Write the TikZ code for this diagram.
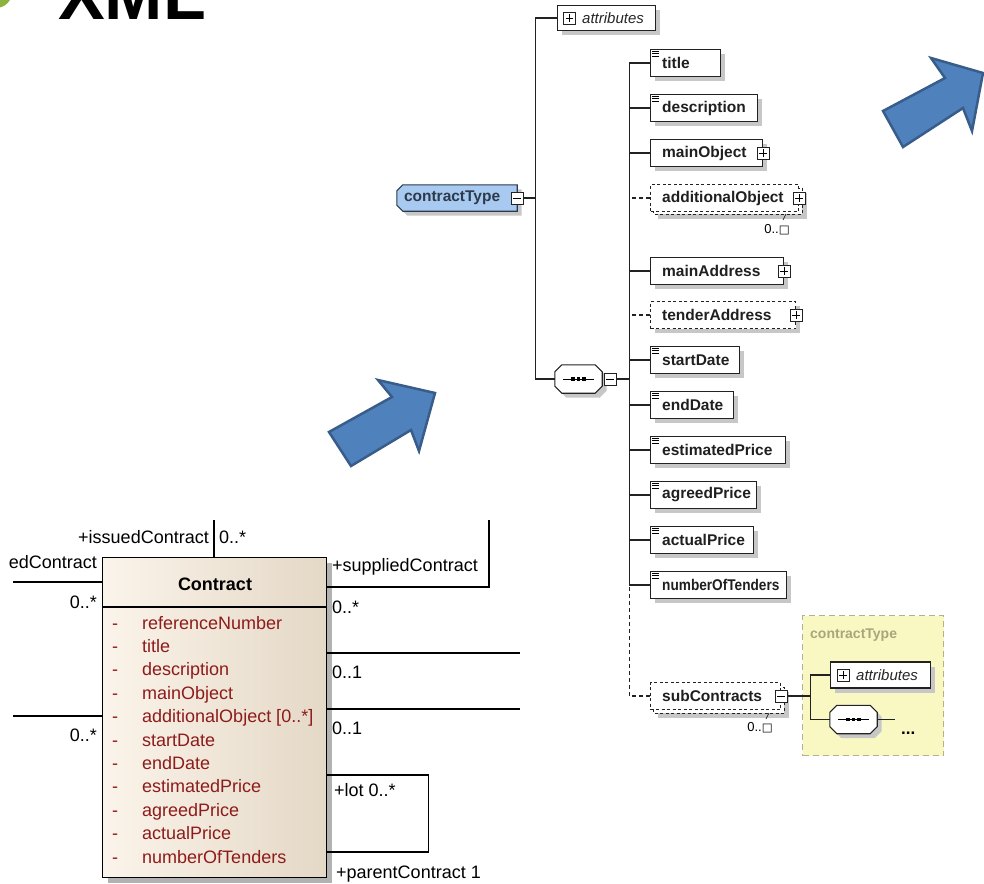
\documentclass[tikz,border=0pt]{standalone}
\usepackage{fontspec}
\setmainfont{Liberation Sans}
\newfontfamily\dvfont{DejaVu Sans}
\newfontfamily\narrowfont[FakeStretch=0.88]{Liberation Sans}
\usetikzlibrary{shadows,calc}
\definecolor{ctblue}{HTML}{A9CAF0}
\definecolor{ctline}{HTML}{2C3A4C}
\definecolor{arrowfill}{HTML}{4F81BD}
\definecolor{arrowline}{HTML}{385D8A}
\definecolor{umlred}{HTML}{8E1B1B}
\definecolor{ylw}{HTML}{FAF8C2}
\definecolor{ylwline}{HTML}{B4B28A}
\definecolor{ylwtext}{HTML}{A8A67C}
\definecolor{clsL}{HTML}{FBF4EA}
\definecolor{clsR}{HTML}{E4D8C6}
\definecolor{xmlgreen}{HTML}{8CB33E}
\definecolor{boxline}{HTML}{222222}
\tikzset{
 shd/.style={drop shadow={shadow xshift=4.5pt,shadow yshift=-4.5pt,fill=black!22,opacity=1}},
 elbox/.style={draw=boxline, line width=1.1pt, fill=white, minimum height=27pt, inner sep=0pt},
 dbox/.style={dash pattern=on 3pt off 2.5pt, line width=1pt},
 eltext/.style={font=\fontsize{15.5}{17}\selectfont\bfseries, inner sep=0pt, text=black!88},
 ittext/.style={font=\fontsize{15}{17}\selectfont\itshape, inner sep=0pt, text=black!85},
 pm/.style={draw=boxline, line width=0.9pt, fill=white, minimum size=12pt, inner sep=0pt},
 conn/.style={line width=1.1pt, draw=boxline},
 dconn/.style={line width=1.1pt, draw=boxline, dash pattern=on 4pt off 3pt},
 umltxt/.style={font=\fontsize{18}{20}\selectfont, inner sep=0pt},
 umlline/.style={line width=1.3pt},
 attrtxt/.style={umltxt, text=umlred, anchor=base west},
 barrow/.style={fill=arrowfill, draw=arrowline, line width=2.5pt, line join=miter},
 occ/.style={font=\fontsize{13}{15}\selectfont, inner sep=0pt},
}
\newcommand\xel[5]{\node[elbox,#5,minimum width=#3pt,anchor=west] (#1) at (650,#2) {};
 \node[eltext,anchor=west] (#1t) at ([xshift=12pt]#1.west) {#4};}
\newcommand\ico[1]{\foreach \d in {2,4.5,7}{\draw[line width=0.7pt] ([xshift=2pt,yshift=-\d pt]#1.north west) -- ++(7,0);}}
\newcommand\pbx[2]{\node[pm] (#1) at (#2) {};
 \draw[line width=0.8pt] ([xshift=2.5pt]#1.west) -- ([xshift=-2.5pt]#1.east) ([yshift=2.5pt]#1.south) -- ([yshift=-2.5pt]#1.north);}
\newcommand\mbx[2]{\node[pm] (#1) at (#2) {};
 \draw[line width=0.8pt] ([xshift=2.5pt]#1.west) -- ([xshift=-2.5pt]#1.east);}
\newcommand\seqnode[2]{\node[minimum width=47pt,minimum height=28pt,inner sep=0pt] (#1) at (#2) {};
 \filldraw[fill=white,draw=boxline,line width=1.1pt,shd] ([xshift=7pt]#1.north west) -- ([xshift=-7pt]#1.north east) -- ([yshift=-7pt]#1.north east) -- ([yshift=7pt]#1.south east) -- ([xshift=-7pt]#1.south east) -- ([xshift=7pt]#1.south west) -- ([yshift=7pt]#1.south west) -- ([yshift=-7pt]#1.north west) -- cycle;
 \draw[line width=1pt] ([xshift=8pt]#1.west) -- ([xshift=-8pt]#1.east);
 \foreach \dx in {-5.5,0,5.5}{\fill ([xshift=\dx pt]#1.center) +(-1.8,-1.8) rectangle +(1.8,1.8);}}
\begin{document}
\begin{tikzpicture}[x=1pt,y=-1pt]
\useasboundingbox (0,0) rectangle (984,883);

% title
\fill[xmlgreen] (-4,-8) circle (16);
\node[anchor=base west, inner sep=0pt, font=\fontsize{70}{70}\selectfont\bfseries] (xml) at (58,20) {XML};

% blue arrows
\draw[barrow] (329,432) -- (392,397) -- (378,380) -- (435,393) -- (419,451) -- (411,430) -- (351,466) -- cycle;
\draw[barrow] (883,111) -- (945,78) -- (931,58) -- (983,73) -- (972,131) -- (963,108) -- (903,147) -- cycle;

% ---------------- XML schema ----------------
% contractType
\node[minimum width=120pt, minimum height=26pt, inner sep=0pt] (ct) at (457,198) {};
\filldraw[fill=ctblue, draw=ctline, line width=1.1pt, shd] ([xshift=6pt]ct.north west) -- (ct.north east) -- (ct.south east) -- ([xshift=6pt]ct.south west) -- ([yshift=6pt]ct.south west) -- ([yshift=-6pt]ct.north west) -- cycle;
\node[eltext, anchor=west, text=ctline] (ctt) at ([xshift=7pt]ct.west) {contractType};
\mbx{ctm}{ct.east}

% attributes
\node[elbox, shd, minimum width=98pt, minimum height=25pt, anchor=west] (attr) at (557,18) {};
\pbx{attrp}{569.5,18}
\node[ittext, anchor=west] (attrt) at (582,18) {attributes};

% sequence
\seqnode{seq}{578.5,379}
\mbx{seqm}{610,379}

% trunk 1
\coordinate (tr1) at ([xshift=12pt]ctm.east);
\draw[conn] (ctm.east) -- (tr1);
\draw[conn] (attr.west) -| (tr1) |- (seq.west);

% children
\xel{title}{63}{70}{title}{shd}
\xel{description}{108}{107}{description}{shd}
\xel{mainObject}{153}{112}{mainObject}{shd}
% additionalObject (stacked, optional)
\draw[draw=boxline, dbox, fill=white, shd] (653,188) rectangle (802,214);
\xel{additionalObject}{198}{148}{additionalObject}{dbox}
\xel{mainAddress}{271}{133}{mainAddress}{shd}
\xel{tenderAddress}{315}{145}{tenderAddress}{dbox,shd}
\xel{startDate}{360}{89}{startDate}{shd}
\xel{endDate}{405}{83}{endDate}{shd}
\xel{estimatedPrice}{450}{135}{estimatedPrice}{shd}
\xel{agreedPrice}{495}{106}{agreedPrice}{shd}
\xel{actualPrice}{540}{103}{actualPrice}{shd}
\xel{numberOfTenders}{585}{136}{{\narrowfont\bfseries numberOfTenders}}{shd}
\draw[draw=boxline, dbox, fill=white, shd] (653,687) rectangle (784,713);
\xel{subContracts}{696}{130}{subContracts}{dbox}

\foreach \n in {title,description,startDate,endDate,estimatedPrice,agreedPrice,actualPrice,numberOfTenders}{\ico{\n}}
\pbx{mainObjectp}{mainObject.east}
\pbx{additionalObjectp}{additionalObject.east}
\pbx{mainAddressp}{mainAddress.east}
\pbx{tenderAddressp}{tenderAddress.east}
\mbx{subm}{subContracts.east}

% occurrence labels
\draw[line width=0.6pt] (786,214) -- (783,220);
\node[occ] (occ1) at (777,230) {0..{\dvfont\fontsize{11.5}{13}\selectfont □}};
\draw[line width=0.6pt] (769,713) -- (766,719);
\node[occ] (occ2) at (760,728) {0..{\dvfont\fontsize{11.5}{13}\selectfont □}};

% trunk 2
\coordinate (tr2) at ([xshift=13pt]seqm.east);
\draw[conn] (seqm.east) -- (tr2);
\draw[conn] (title.west) -| (tr2) |- (numberOfTenders.west);
\foreach \n in {description,mainObject,mainAddress,startDate,endDate,estimatedPrice,agreedPrice,actualPrice}{\draw[conn] (\n.west) -- (\n.west -| tr2);}
\foreach \n in {additionalObject,tenderAddress}{\draw[dconn] (\n.west) -- (\n.west -| tr2);}
\draw[dconn] (subContracts.west) -| (tr2 |- numberOfTenders.west);

% yellow referenced type
\node[draw=ylwline, fill=ylw, dash pattern=on 6pt off 4pt, line width=1pt, minimum width=141pt, minimum height=140pt, anchor=north west, inner sep=0pt] (yb) at (802,615) {};
\node[anchor=west, font=\fontsize{14}{16}\selectfont\bfseries, text=ylwtext, inner sep=0pt] (ybt) at (810,635) {contractType};
\node[elbox, shd, minimum width=100pt, minimum height=26pt, anchor=west] (attr2) at (830,675) {};
\pbx{attr2p}{843,675}
\node[ittext, anchor=west] (attr2t) at (856,675) {attributes};
\seqnode{seq2}{853.5,719.5}
\coordinate (tr3) at ([xshift=23pt]subm.east);
\draw[conn] (subm.east) -- (tr3);
\draw[conn] (attr2.west) -| (tr3) |- (seq2.west);
\coordinate (dotsend) at (895,719.5);
\draw[conn] (seq2.east) -- (dotsend);
\node[anchor=base west, inner sep=0pt, font=\fontsize{17}{19}\selectfont\bfseries] (dots) at (901,734) {...};

% ---------------- UML class ----------------
\node[draw, line width=1.3pt, left color=clsL, right color=clsR, minimum width=224pt, minimum height=320pt, anchor=north west, inner sep=0pt, drop shadow={shadow xshift=5pt, shadow yshift=-5pt, fill=black!30, opacity=1}] (cls) at (102,557) {};
\draw[umlline] ([yshift=-50pt]cls.north west) -- ([yshift=-50pt]cls.north east);
\node[umltxt, font=\fontsize{18}{20}\selectfont\bfseries] (clst) at (215,584) {Contract};
\foreach \t [count=\i from 0] in {{referenceNumber},{title},{description},{mainObject},{additionalObject [0..*]},{startDate},{endDate},{estimatedPrice},{agreedPrice},{actualPrice},{numberOfTenders}}{
  \node[attrtxt] at (142,629+23.4*\i) {\t};
  \node[attrtxt] at (112,629+23.4*\i) {-};
}

% association lines
\coordinate (L1) at (13,582);
\draw[umlline] (L1) -- (L1 -| cls.west);
\coordinate (L2) at (13,716);
\draw[umlline] (L2) -- (L2 -| cls.west);
\coordinate (T1) at (214,520);
\draw[umlline] (T1) -- (T1 |- cls.north);
\coordinate (R1) at (489,520);
\draw[umlline] (R1) |- ([yshift=-30pt]cls.north east);
\coordinate (R2) at (520,653);
\draw[umlline] (R2) -- (R2 -| cls.east);
\coordinate (R3) at (520,709);
\draw[umlline] (R3) -- (R3 -| cls.east);
\draw[umlline] ([yshift=-218pt]cls.north east) -- ++(101,0) |- ([yshift=-295pt]cls.north east);

% association labels
\node[umltxt, anchor=east] (lb1) at (209,537) {+issuedContract};
\node[umltxt, anchor=west] (lb2) at (219,537) {0..*};
\node[umltxt, anchor=east] (lb3) at (97,562) {edContract};
\node[umltxt, anchor=east] (lb4) at (97,602) {0..*};
\node[umltxt, anchor=east] (lb5) at (97,735) {0..*};
\node[umltxt, anchor=west] (lb6) at (332,567) {+suppliedContract};
\node[umltxt, anchor=west] (lb7) at (332,607) {0..*};
\node[umltxt, anchor=west] (lb8) at (332,672) {0..1};
\node[umltxt, anchor=west] (lb9) at (332,728) {0..1};
\node[umltxt, anchor=west] (lb10) at (334,790) {+lot 0..*};
\node[umltxt, anchor=west] (lb11) at (336,874) {+parentContract 1};
\end{tikzpicture}
\end{document}
